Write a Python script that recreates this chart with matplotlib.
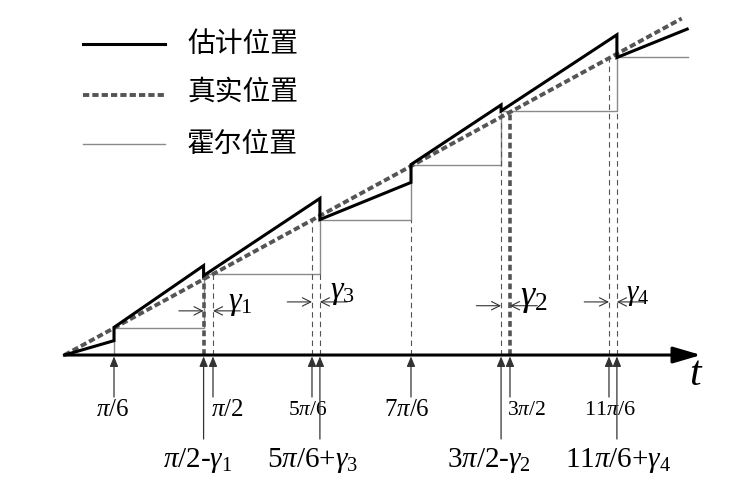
import matplotlib
matplotlib.use('Agg')
import matplotlib.pyplot as plt
from matplotlib.lines import Line2D

plt.rcParams['mathtext.fontset'] = 'custom'
plt.rcParams['mathtext.rm'] = 'Liberation Serif'
plt.rcParams['mathtext.it'] = 'Liberation Serif:italic'
plt.rcParams['mathtext.bf'] = 'Liberation Serif:bold'

# ---- data (time and position in units of pi/6) ----
edge_nominal = [1, 3, 5, 7, 9, 11]
edge_actual = [1, 2.81, 5.16, 7.0, 8.82, 11.16]
hall_levels = [1, 3, 5, 7, 9, 11]
t_end = 12.6

true_t = [0, 12.47]
true_p = [0, 12.42]

est_t = [0, 1, 1, 2.81, 2.81, 5.16, 5.16, 7.0, 7.0, 8.82, 8.82, 11.16, 11.16, 12.58]
est_p = [0, 0.53, 1.02, 3.30, 2.93, 5.78, 5.0, 6.37, 7.03, 9.23, 9.01, 11.82, 10.98, 12.03]

# thin dashed guide lines: time, top level
thin_t = [3, 5, 5.16, 7, 8.82, 11, 11.16]
thin_top = [3.0, 5.0, 3.0, 5.0, 9.0, 11.0, 9.0]
# thick dashed guide lines
thick_t = [2.81, 9]
thick_top = [2.88, 9.0]

upper_labels = [r'$\pi/6$', r'$\pi/2$', r'$5\pi/6$', r'$7\pi/6$', r'$3\pi/2$', r'$11\pi/6$']
upper_t = [1, 3, 5, 7, 9, 11]
lower_labels = [r'$\pi/2$-$\gamma_1$', r'$5\pi/6$+$\gamma_3$', r'$3\pi/2$-$\gamma_2$', r'$11\pi/6$+$\gamma_4$']
lower_t = [2.81, 5.16, 8.82, 11.16]

gamma_labels = [r'$\gamma_1$', r'$\gamma_3$', r'$\gamma_2$', r'$\gamma_4$']
gamma_left = [2.81, 5, 8.82, 11]
gamma_right = [3, 5.16, 9, 11.16]

legend_labels = ['估计位置', '真实位置', '霍尔位置']

# ---- layout / style ----
upper_dx = [-0.02, 0.28, -0.08, -0.08, 0.34, 0.02]
upper_size = [18, 18, 15.5, 18, 15.5, 16]
lower_dx = [-0.12, -0.14, -0.24, 0.02]
gamma_y = [1.63, 1.96, 1.82, 1.96]
gamma_txt = [(3.55, 1.95, 23), (5.62, 2.35, 23), (9.47, 2.12, 26), (11.58, 2.25, 21)]

fig = plt.figure(figsize=(7.55, 4.85), dpi=100)
ax = fig.add_axes([0, 0, 1, 1])
ax.set_xlim(-1.303, 13.95)
ax.set_ylim(-4.76, 13.14)
ax.axis('off')

# hall step path
hx, hy = [edge_actual[0]], [0]
for i, (e, lev) in enumerate(zip(edge_actual, hall_levels)):
    nxt = edge_actual[i + 1] if i + 1 < len(edge_actual) else t_end
    hx += [e, nxt]
    hy += [lev, lev]
ax.plot(hx, hy, color='#8a8a8a', lw=1.0, zorder=2)

# guide lines
for t, top in zip(thin_t, thin_top):
    ax.plot([t, t], [0, top], color='#555555', lw=0.8, dashes=(5, 3.5), zorder=2)
for t, top in zip(thick_t, thick_top):
    ax.plot([t, t], [0, top], color='#555555', lw=2.6, dashes=(1.6, 1.0), zorder=3)

# true and estimated positions
ax.plot(true_t, true_p, color='#555555', lw=2.8, dashes=(1.6, 0.8), zorder=4)
ax.plot(est_t, est_p, color='black', lw=2.2, zorder=5, solid_joinstyle='miter')

# time axis
ax.annotate('', xy=(12.86, 0), xytext=(0, 0),
            arrowprops=dict(arrowstyle='-|>,head_length=1.7,head_width=0.5',
                            lw=2.2, color='black', shrinkA=0, shrinkB=0,
                            mutation_scale=10), zorder=6)
ax.text(12.74, -0.7, 't', fontsize=30, family='Liberation Serif', style='italic',
        ha='center', va='center')

tick_style = dict(arrowstyle='-|>,head_length=0.6,head_width=0.25', color='#333333',
                  lw=0.9, shrinkA=0, shrinkB=0, mutation_scale=10)
for lab, t, dx, fs in zip(upper_labels, upper_t, upper_dx, upper_size):
    ax.annotate('', xy=(t, -0.05), xytext=(t, -1.55), arrowprops=tick_style, zorder=6)
    ax.text(t + dx, -2.0, lab, fontsize=fs, ha='center', va='center',
            family='Liberation Serif')
for lab, t, dx in zip(lower_labels, lower_t, lower_dx):
    ax.annotate('', xy=(t, -0.05), xytext=(t, -3.1), arrowprops=tick_style, zorder=6)
    ax.text(t + dx, -3.84, lab, fontsize=21, ha='center', va='center',
            family='Liberation Serif')

# gamma dimension arrows
dim_style = dict(arrowstyle='->,head_length=0.6,head_width=0.3', color='#333333',
                 lw=0.8, shrinkA=0, shrinkB=0, mutation_scale=10)
for l, r, y in zip(gamma_left, gamma_right, gamma_y):
    ax.annotate('', xy=(l, y), xytext=(l - 0.5, y), arrowprops=dim_style)
    ax.annotate('', xy=(r, y), xytext=(r + 0.55, y), arrowprops=dim_style)
for lab, (x, y, fs) in zip(gamma_labels, gamma_txt):
    ax.text(x, y, lab, fontsize=fs, ha='center', va='center', family='Liberation Serif')

# legend (manual)
leg_y = [1 - 45 / 485, 1 - 96 / 485, 1 - 145 / 485]
leg_txt_y = [1 - 44 / 485, 1 - 92 / 485, 1 - 144 / 485]
x0, x1, xt = 83 / 755, 165 / 755, 187 / 755
fig.add_artist(Line2D([x0, x1], [leg_y[0]] * 2, transform=fig.transFigure,
                      color='black', lw=2.2))
fig.add_artist(Line2D([x0, x1], [leg_y[1]] * 2, transform=fig.transFigure,
                      color='#555555', lw=2.8, dashes=(1.6, 0.8)))
fig.add_artist(Line2D([x0, x1], [leg_y[2]] * 2, transform=fig.transFigure,
                      color='#8a8a8a', lw=1.0))
for lab, y in zip(legend_labels, leg_txt_y):
    fig.text(xt, y, lab, fontsize=20, family=['Noto Sans CJK SC', 'DejaVu Sans'],
             ha='left', va='center')

fig.savefig('out.png', dpi=100)
